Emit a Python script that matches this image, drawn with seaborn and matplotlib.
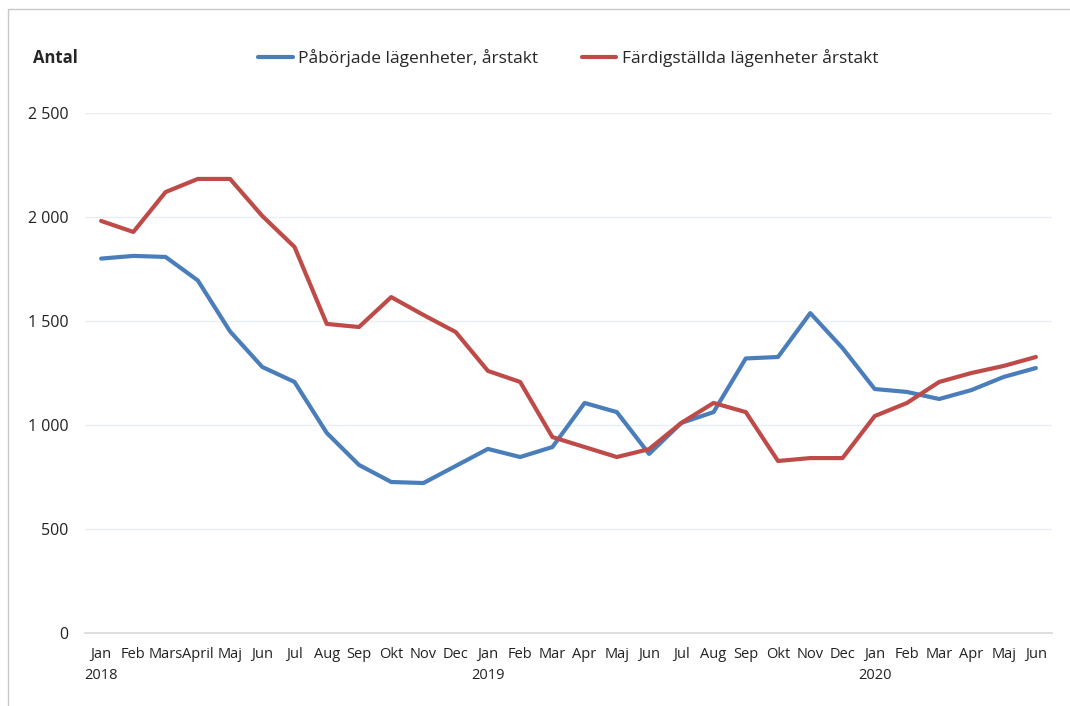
import pandas as pd
import numpy as np
import seaborn as sns
import matplotlib.pyplot as plt
from matplotlib.patches import Rectangle

# Månader (Jan 2018 - Jun 2020)
manader = ["Jan", "Feb", "Mars", "April", "Maj", "Jun", "Jul", "Aug", "Sep", "Okt", "Nov", "Dec",
           "Jan", "Feb", "Mar", "Apr", "Maj", "Jun", "Jul", "Aug", "Sep", "Okt", "Nov", "Dec",
           "Jan", "Feb", "Mar", "Apr", "Maj", "Jun"]
ar = {0: "2018", 12: "2019", 24: "2020"}

paborjade = [1800, 1813, 1808, 1695, 1450, 1279, 1207, 962, 808, 726, 721, 803,
             885, 846, 894, 1106, 1062, 861, 1010, 1062, 1320, 1327, 1538, 1370,
             1173, 1159, 1125, 1168, 1231, 1274]
fardigstallda = [1981, 1928, 2120, 2183, 2183, 2005, 1856, 1486, 1471, 1615, 1529, 1447,
                 1260, 1207, 942, 894, 846, 884, 1010, 1106, 1062, 827, 841, 841,
                 1043, 1106, 1207, 1250, 1284, 1327]

serie1 = "Påbörjade lägenheter, årstakt"
serie2 = "Färdigställda lägenheter årstakt"

# Armamos el dataframe largo
idx = np.arange(len(manader))
df = pd.concat([
    pd.DataFrame({"pos": idx, "antal": paborjade, "serie": serie1}),
    pd.DataFrame({"pos": idx, "antal": fardigstallda, "serie": serie2}),
])

sns.set_theme(style="white")
plt.rcParams["font.family"] = ["Open Sans", "DejaVu Sans"]

fig = plt.figure(figsize=(10.70, 7.06), dpi=100)
ax = fig.add_axes([85 / 1070, 1 - 633 / 706, (1052 - 85) / 1070, (633 - 113) / 706])

sns.lineplot(data=df, x="pos", y="antal", hue="serie",
             palette={serie1: "#4A7EBB", serie2: "#BE4B48"},
             linewidth=3, ax=ax, legend=True)

ax.set_xlim(-0.5, len(manader) - 0.5)
ax.set_ylim(0, 2500)
ax.set_yticks([0, 500, 1000, 1500, 2000, 2500])
ax.set_yticklabels(["0", "500", "1 000", "1 500", "2 000", "2 500"], fontsize=11.5, color="#222222")
ax.set_xticks(idx)
ax.set_xticklabels([m + ("\n" + ar[i] if i in ar else "") for i, m in enumerate(manader)],
                   fontsize=10.5, color="#222222", linespacing=1.6, va="top")
ax.tick_params(axis="x", length=0, pad=10)
ax.tick_params(axis="y", length=0, pad=12)
# Marcas de cambio de año
ax.set_xticks([-0.5, 11.5, 23.5], minor=True)
ax.tick_params(axis="x", which="minor", length=5, color="#d9d9d9", width=1)

ax.grid(axis="y", color="#eaeef3", linewidth=1)
for s in ["top", "right", "left"]:
    ax.spines[s].set_visible(False)
ax.spines["bottom"].set_color("#d9d9d9")
ax.set_xlabel("")
ax.set_ylabel("")

# Leyenda arriba
handles, labels = ax.get_legend_handles_labels()
ax.legend_.remove()
fig.legend(handles, labels, loc="center", bbox_to_anchor=(0.531, 0.918), ncol=2,
           frameon=False, fontsize=12.5, handlelength=2.0, columnspacing=2.5, handletextpad=0.3)

fig.text(33 / 1070, 0.918, "Antal", fontsize=12, fontweight="bold", va="center", ha="left")

# Marco del gráfico
fig.patches.append(Rectangle((8 / 1070, -0.1), 1.2, 1.1 - 9 / 706, transform=fig.transFigure,
                             facecolor="none", edgecolor="#c8c8c8", linewidth=1))

fig.savefig("out.png", dpi=100)
